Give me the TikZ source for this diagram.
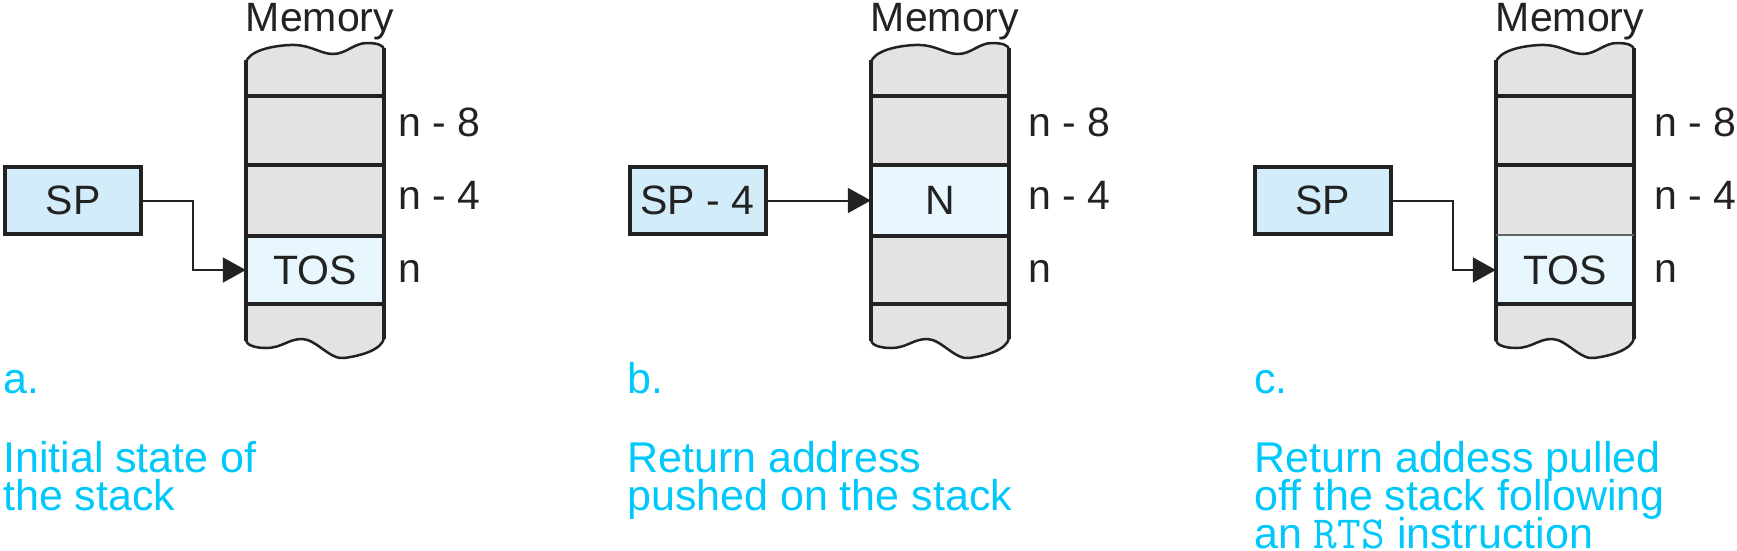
\documentclass[tikz,border=0pt]{standalone}
\usepackage{fontspec}
\setmainfont{Liberation Sans}
\usetikzlibrary{arrows.meta}
\definecolor{ink}{HTML}{222222}
\definecolor{capcol}{RGB}{0,200,250}
\definecolor{memgray}{HTML}{E3E3E3}
\definecolor{spblue}{HTML}{D2ECFA}
\definecolor{slotblue}{HTML}{E8F6FD}
\def\colpath{(246,62) .. controls (249,52) and (268,46) .. (290,45) .. controls (310,44) and (320,54) .. (333,54) .. controls (346,54) and (354,43) .. (367,43) .. controls (377,43) and (384,45) .. (384,50) -- (384,338) .. controls (382,350) and (360,356) .. (344,358) .. controls (330,360) and (316,339) .. (302,339) .. controls (288,339) and (282,348) .. (266,348) .. controls (255,348) and (246,345) .. (246,340) -- cycle}
\begin{document}
\begin{tikzpicture}[x=1pt,y=-1pt,
  txt/.style={font=\fontsize{41}{41}\selectfont, text=ink, inner sep=0pt},
  regbox/.style={draw=ink, line width=4pt, fill=spblue, minimum width=136pt, minimum height=67pt, inner sep=0pt, font=\fontsize{41}{41}\selectfont, text=ink},
  slot/.style={minimum width=138pt, inner sep=0pt, font=\fontsize{41}{41}\selectfont, text=ink},
  outline/.style={draw=ink, line width=2.5pt, line join=round},
  side/.style={draw=ink, line width=4pt},
  divider/.style={draw=ink, line width=3.3pt},
  thindiv/.style={draw=ink!70, line width=2pt},
  arr/.style={draw=ink, line width=2pt, -{Triangle[length=23pt,width=25pt]}},
  captxt/.style={font=\fontsize{43}{38}\selectfont, text=capcol, inner sep=0pt, anchor=base west},
]
\useasboundingbox (0,0) rectangle (1737,550);

% ---------------- panel a ----------------
\begin{scope}
  \fill[memgray] \colpath;
  \node[slot, minimum height=69pt] (a8) at (315,130.5) {};
  \node[slot, minimum height=71pt] (a4) at (315,200.5) {};
  \node[slot, minimum height=68pt, fill=slotblue] (a0) at (315,270) {TOS};
  \path[outline] \colpath;
  \draw[side] (246,60) -- (246,341);
  \draw[side] (384,48) -- (384,339);
  \draw[divider] (246,96) -- (384,96);
  \draw[divider] (246,165) -- (384,165);
  \draw[divider] (246,236) -- (384,236);
  \draw[divider] (246,304) -- (384,304);
  \node[txt, anchor=base] (memA) at (320,31) {Memory};
  \node[txt, anchor=base west] (la8) at (398,136) {n - 8};
  \node[txt, anchor=base west] (la4) at (398,209) {n - 4};
  \node[txt, anchor=base west] (la0) at (398,282) {n};
  \node[regbox] (spA) at (73,200.5) {SP};
  \draw[arr] (spA.east) -- ++(50,0) |- (a0.west);
  \node[captxt] (ca0) at (3,393) {a.};
  \node[captxt] (ca1) at (3,472) {Initial state of};
  \node[captxt] (ca2) at (3,510) {the stack};
\end{scope}

% ---------------- panel b ----------------
\begin{scope}[xshift=625pt]
  \fill[memgray] \colpath;
  \node[slot, minimum height=69pt] (b8) at (315,130.5) {};
  \node[slot, minimum height=71pt, fill=slotblue] (b4) at (315,200.5) {N};
  \node[slot, minimum height=68pt] (b0) at (315,270) {};
  \path[outline] \colpath;
  \draw[side] (246,60) -- (246,341);
  \draw[side] (384,48) -- (384,339);
  \draw[divider] (246,96) -- (384,96);
  \draw[divider] (246,165) -- (384,165);
  \draw[divider] (246,236) -- (384,236);
  \draw[divider] (246,304) -- (384,304);
  \node[txt, anchor=base] (memB) at (320,31) {Memory};
  \node[txt, anchor=base west] (lb8) at (403,136) {n - 8};
  \node[txt, anchor=base west] (lb4) at (403,209) {n - 4};
  \node[txt, anchor=base west] (lb0) at (403,282) {n};
  \node[regbox] (spB) at (72.5,200.5) {SP - 4};
  \draw[arr] (spB.east) -- (b4.west);
  \node[captxt] (cb0) at (2,393) {b.};
  \node[captxt] (cb1) at (2,472) {Return address};
  \node[captxt] (cb2) at (2,510) {pushed on the stack};
\end{scope}

% ---------------- panel c ----------------
\begin{scope}[xshift=1250pt]
  \fill[memgray] \colpath;
  \node[slot, minimum height=69pt] (c8) at (315,130.5) {};
  \node[slot, minimum height=71pt] (c4) at (315,200.5) {};
  \node[slot, minimum height=68pt, fill=slotblue] (c0) at (315,270) {TOS};
  \path[outline] \colpath;
  \draw[side] (246,60) -- (246,341);
  \draw[side] (384,48) -- (384,339);
  \draw[divider] (246,96) -- (384,96);
  \draw[divider] (246,165) -- (384,165);
  \draw[thindiv] (246,235) -- (384,235);
  \draw[divider] (246,304) -- (384,304);
  \node[txt, anchor=base] (memC) at (320,31) {Memory};
  \node[txt, anchor=base west] (lc8) at (404,136) {n - 8};
  \node[txt, anchor=base west] (lc4) at (404,209) {n - 4};
  \node[txt, anchor=base west] (lc0) at (404,282) {n};
  \node[regbox] (spC) at (72.5,200.5) {SP};
  \draw[arr] (spC.east) -- ++(60,0) |- (c0.west);
  \node[captxt] (cc0) at (4,393) {c.};
  \node[captxt] (cc1) at (4,472) {Return addess pulled};
  \node[captxt] (cc2) at (4,510) {off the stack following};
  \node[captxt] (cc3) at (4,548) {an {\ttfamily\fontsize{46}{38}\selectfont RTS} instruction};
\end{scope}
\end{tikzpicture}
\end{document}
